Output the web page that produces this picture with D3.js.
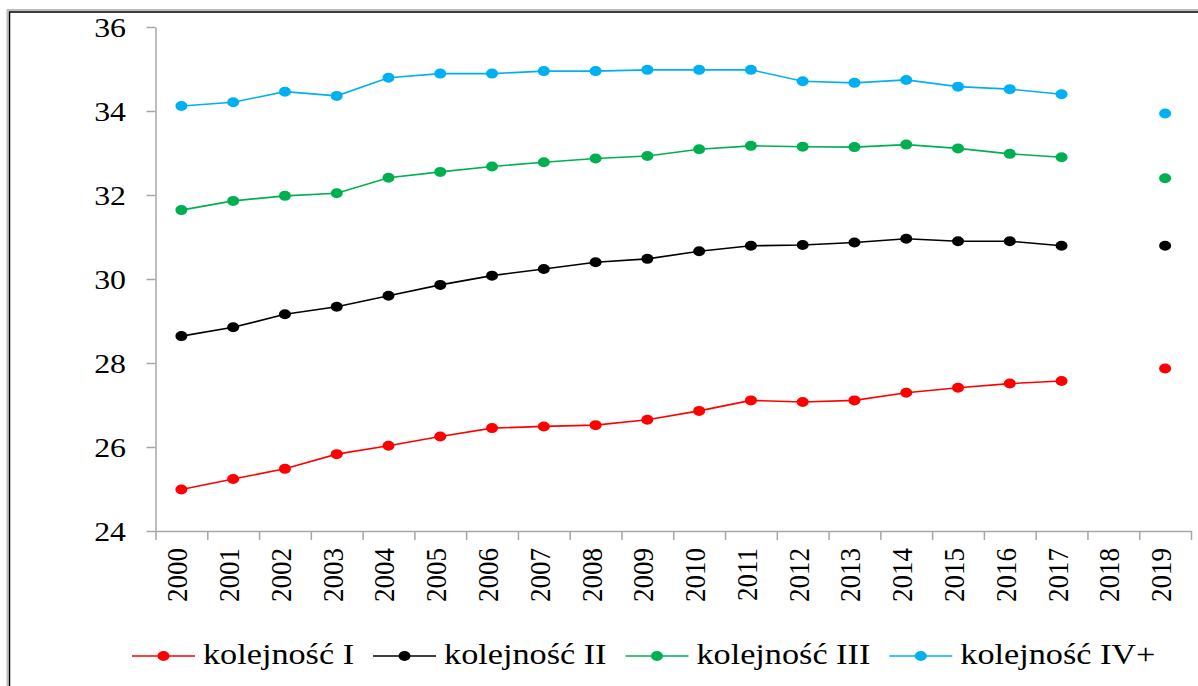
<!DOCTYPE html>
<html>
<head>
<meta charset="utf-8">
<script src="https://cdn.jsdelivr.net/npm/d3@7"></script>
<style>
  body { margin: 0; background: #fff; }
  text { font-family: "Liberation Serif", "Times New Roman", serif; fill: #000; }
</style>
</head>
<body>
<script>
const width = 1198, height = 686;

// data
const years = ['2000','2001','2002','2003','2004','2005','2006','2007','2008','2009',
  '2010','2011','2012','2013','2014','2015','2016','2017','2018','2019'];
const seriesNames = ['kolejność I', 'kolejność II', 'kolejność III', 'kolejność IV+'];
const seriesColors = ['#ff0000', '#000000', '#00b050', '#00b0f0'];
const order1 = [24.99,25.24,25.48,25.83,26.03,26.25,26.45,26.49,26.52,26.65,
  26.86,27.11,27.07,27.11,27.29,27.41,27.51,27.57,null,27.87];
const order2 = [28.64,28.85,29.16,29.34,29.60,29.86,30.08,30.24,30.40,30.48,
  30.66,30.79,30.81,30.87,30.96,30.90,30.90,30.79,null,30.79];
const order3 = [31.64,31.86,31.98,32.04,32.41,32.55,32.68,32.78,32.87,32.93,
  33.09,33.17,33.15,33.14,33.20,33.11,32.98,32.90,null,32.40];
const order4 = [34.12,34.21,34.46,34.36,34.79,34.89,34.89,34.95,34.95,34.98,
  34.98,34.98,34.71,34.67,34.74,34.58,34.52,34.40,null,33.94];
const yTicks = [24, 26, 28, 30, 32, 34, 36];

const allSeries = [order1, order2, order3, order4];
const sx = 1.18; // the reference text is a bit stretched horizontally

let svg = d3.select('body')
  .append('svg')
  .attr('width', width)
  .attr('height', height);

// frame (cut off at right and bottom in the reference)
svg.append('rect')
  .attr('x', 7.5).attr('y', 10)
  .attr('width', width + 10).attr('height', height + 10)
  .attr('fill', 'none')
  .attr('stroke', '#bdbdbd').attr('stroke-width', 2);
svg.append('rect')
  .attr('x', 9.5).attr('y', 12)
  .attr('width', width + 10).attr('height', height + 10)
  .attr('fill', 'none')
  .attr('stroke', '#000').attr('stroke-width', 1.5);

const plotLeft = 155.5, plotRight = 1191, plotTop = 27, plotBottom = 531;

const y = d3.scaleLinear().domain([24, 36]).range([plotBottom, plotTop]);
const x = d3.scaleBand().domain(years).range([plotLeft, plotRight]);
const xEdges = d3.scaleLinear().domain([0, years.length]).range([plotLeft, plotRight]);

// y axis
const yAxis = svg.append('g')
  .attr('transform', 'translate(' + plotLeft + ',0)')
  .call(d3.axisLeft(y).tickValues(yTicks).tickSize(9).tickSizeOuter(0).tickFormat(''));
yAxis.selectAll('line, path').attr('stroke', '#a6a6a6').attr('stroke-width', 1.5);

svg.append('g')
  .selectAll('g')
  .data(yTicks)
  .enter()
  .append('g')
  .attr('transform', d => 'translate(126,' + (y(d) + 9.5) + ') scale(' + sx + ',1)')
  .append('text')
  .attr('text-anchor', 'end')
  .style('font-size', '27px')
  .text(d => d);

// x axis, ticks between categories
const xAxis = svg.append('g')
  .attr('transform', 'translate(0,' + plotBottom + ')')
  .call(d3.axisBottom(xEdges).tickValues(d3.range(years.length + 1)).tickSize(9).tickSizeOuter(0).tickFormat(''));
xAxis.selectAll('line, path').attr('stroke', '#a6a6a6').attr('stroke-width', 1.5);

svg.append('g')
  .selectAll('g')
  .data(years)
  .enter()
  .append('g')
  .attr('transform', d => 'translate(' + (x(d) + x.bandwidth() / 2 + 6) + ',548) scale(1.12,1) rotate(-90)')
  .append('text')
  .attr('text-anchor', 'end')
  .style('font-size', '27px')
  .text(d => d);

// lines and markers
const line = d3.line()
  .defined(d => d.v != null)
  .x(d => x(d.year) + x.bandwidth() / 2)
  .y(d => y(d.v));

allSeries.forEach(function (values, i) {
  const pts = years.map((yr, j) => ({ year: yr, v: values[j] }));
  svg.append('path')
    .datum(pts)
    .attr('d', line)
    .attr('fill', 'none')
    .attr('stroke', seriesColors[i])
    .attr('stroke-width', 1.6);
  svg.append('g')
    .selectAll('ellipse')
    .data(pts.filter(d => d.v != null))
    .enter()
    .append('ellipse')
    .attr('cx', d => x(d.year) + x.bandwidth() / 2)
    .attr('cy', d => y(d.v))
    .attr('rx', 6)
    .attr('ry', 5)
    .attr('fill', seriesColors[i]);
});

// legend
const legend = svg.append('g').attr('transform', 'translate(0,656)');
let lx = 132;
seriesNames.forEach(function (name, i) {
  const item = legend.append('g');
  item.append('line')
    .attr('x1', lx).attr('x2', lx + 63)
    .attr('y1', 0).attr('y2', 0)
    .attr('stroke', seriesColors[i]).attr('stroke-width', 1.6);
  item.append('ellipse')
    .attr('cx', lx + 31.5).attr('cy', 0)
    .attr('rx', 6).attr('ry', 5)
    .attr('fill', seriesColors[i]);
  const t = item.append('g')
    .attr('transform', 'translate(' + (lx + 71) + ',8) scale(' + sx + ',1)')
    .append('text')
    .style('font-size', '29px')
    .text(name);
  lx += 71 + t.node().getComputedTextLength() * sx + 19;
});
</script>
</body>
</html>
